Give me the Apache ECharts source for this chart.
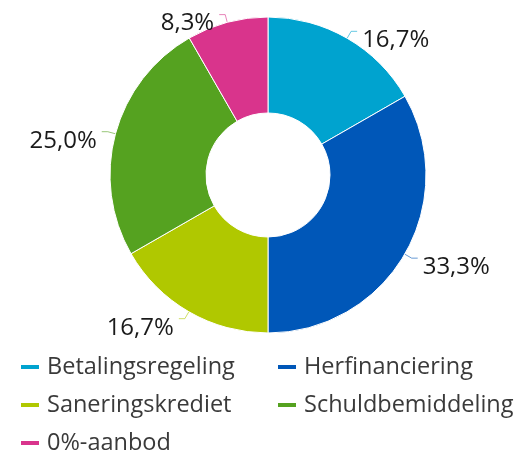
<!DOCTYPE html>
<html>
<head>
<meta charset="utf-8">
<script src="https://cdn.jsdelivr.net/npm/echarts@6/dist/echarts.min.js"></script>
<style>
  html, body { margin: 0; padding: 0; background: #fff; }
  #chart { width: 521px; height: 454px; }
</style>
</head>
<body>
<div id="chart"></div>
<script>
const categories = ['Betalingsregeling', 'Herfinanciering', 'Saneringskrediet', 'Schuldbemiddeling', '0%-aanbod']
const values = [16.7, 33.3, 16.7, 25.0, 8.3]
const colors = ['#00a3cf', '#0057b8', '#b0c800', '#55a220', '#d9348c']

const fontFamily = '"Open Sans", sans-serif'
const legendText = { fontSize: 23.5, color: '#3a3a3a', fontFamily, padding: [0, 0, 0, 2] }

const myChart = echarts.init(document.getElementById('chart'))

// two legend columns, like the reference
const legendBase = {
  orient: 'vertical',
  top: 355,
  height: 110,
  itemWidth: 20,
  itemHeight: 6,
  itemGap: 14,
  icon: 'rect',
  padding: 0,
  textStyle: legendText
}

const option = {
  color: colors,
  legend: [
    Object.assign({}, legendBase, { left: 19, data: [categories[0], categories[2], categories[4]] }),
    Object.assign({}, legendBase, { left: 276, data: [categories[1], categories[3]] })
  ],
  series: [
    {
      type: 'pie',
      center: [268, 175],
      radius: [62, 158],
      startAngle: 90,
      clockwise: true,
      avoidLabelOverlap: false,
      itemStyle: { borderColor: '#fff', borderWidth: 1 },
      label: {
        show: true,
        position: 'outside',
        fontSize: 24,
        color: '#1a1a1a',
        fontFamily,
        formatter: p => p.value.toFixed(1).replace('.', ',') + '%'
      },
      labelLayout: { dy: 9 },
      labelLine: {
        show: true,
        length: 8,
        length2: 6,
        lineStyle: { width: 1, opacity: 0.6 }
      },
      data: categories.map((name, i) => ({ name, value: values[i] }))
    }
  ]
}

myChart.setOption(option)
</script>
</body>
</html>
